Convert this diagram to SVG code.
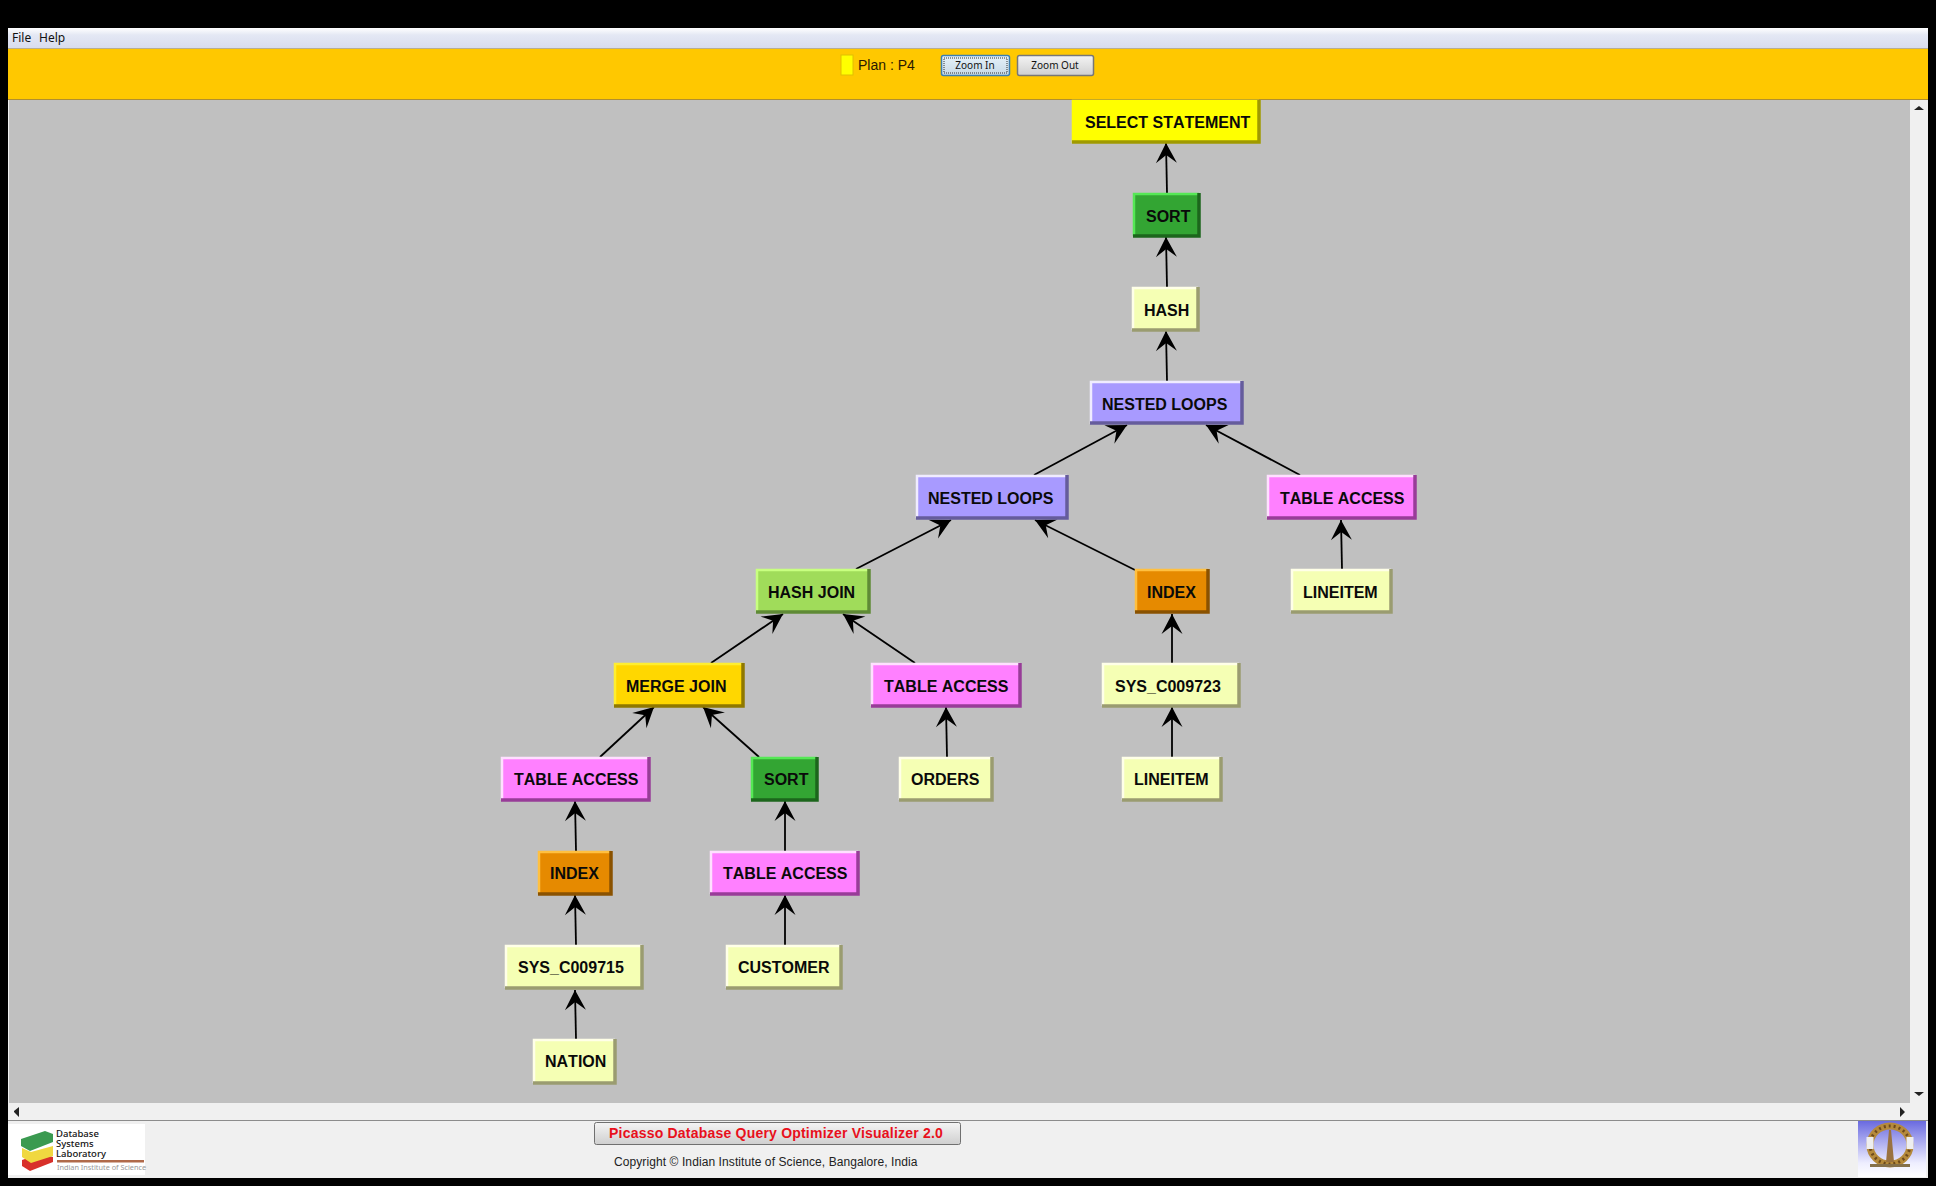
<svg xmlns="http://www.w3.org/2000/svg" width="1936" height="1186" viewBox="0 0 1936 1186">
<style>
.lb{font:bold 16px "Liberation Sans",Arial,sans-serif;font-kerning:none;fill:#0a0a0a}
.ui{font:12px "Noto Sans",sans-serif;fill:#111}
.btn{font:10px "Noto Sans",sans-serif;fill:#111;text-anchor:middle}
.hi{fill:none;stroke-width:2.5}
.lo{fill:none;stroke-width:3.5}
.e{stroke:#000;stroke-width:1.800;fill:none;marker-end:url(#ah)}
.yel{fill:#ffff00}.yel~.hi{stroke:#ffff00}.yel~.lo{stroke:#a09a00}
.grn{fill:#33a533}.grn~.hi{stroke:#55e855}.grn~.lo{stroke:#1c661c}
.pal{fill:#f5ffb4}.pal~.hi{stroke:#ffffe8}.pal~.lo{stroke:#9a9c70}
.pur{fill:#a89aff}.pur~.hi{stroke:#f0ecff}.pur~.lo{stroke:#655c9c}
.pnk{fill:#ff80ff}.pnk~.hi{stroke:#ffe0ff}.pnk~.lo{stroke:#983c98}
.org{fill:#e68a00}.org~.hi{stroke:#ffc040}.org~.lo{stroke:#8a5200}
.gld{fill:#ffd700}.gld~.hi{stroke:#ffee30}.gld~.lo{stroke:#8f7800}
.lim{fill:#a0dc5a}.lim~.hi{stroke:#c8ff80}.lim~.lo{stroke:#5f8a36}
.tk{fill:#222}
</style>
<defs>
<marker id="ah" markerUnits="userSpaceOnUse" markerWidth="24" markerHeight="24" refX="22" refY="12" orient="auto" viewBox="0 0 24 24"><path d="M22,12 L2,1.500 L10,12 L2,22.500 Z" fill="#000"/></marker>
<linearGradient id="menu" x1="0" y1="0" x2="0" y2="1"><stop offset="0" stop-color="#ffffff"/><stop offset=".35" stop-color="#e4e8f4"/><stop offset="1" stop-color="#d8dcee"/></linearGradient>
<linearGradient id="bt" x1="0" y1="0" x2="0" y2="1"><stop offset="0" stop-color="#f4f4f4"/><stop offset="1" stop-color="#cfcfcf"/></linearGradient>
<linearGradient id="bf" x1="0" y1="0" x2="0" y2="1"><stop offset="0" stop-color="#e6f2fa"/><stop offset="1" stop-color="#c6d8e6"/></linearGradient>
<linearGradient id="sky" x1="0" y1="0" x2="0" y2="1"><stop offset="0" stop-color="#6a6ae0"/><stop offset=".75" stop-color="#eeeeff"/><stop offset="1" stop-color="#ffffff"/></linearGradient>
</defs>

<rect width="1936" height="1186" fill="#000"/>
<g id="window">
<rect x="8" y="28" width="1920" height="1150" fill="#f0f0f0"/>
<rect x="8" y="28" width="1920" height="20" fill="url(#menu)"/>
<text class="ui" x="12" y="42">File</text>
<text class="ui" x="39" y="42">Help</text>
<rect x="8" y="48" width="1920" height="1" fill="#b8ae90"/>
<rect x="8" y="49" width="1920" height="50" fill="#ffc800"/>
<rect x="8" y="99" width="1920" height="1" fill="#b08e30"/>
<rect x="9" y="100" width="1901" height="1003" fill="#c0c0c0"/>
<rect x="841" y="55" width="12" height="20" fill="#ffff00" stroke="#e0c000"/>
<text x="858" y="70" font-family="'Liberation Sans',Arial,sans-serif" font-size="14" fill="#2a1a00">Plan : P4</text>
<rect x="941.500" y="55.500" width="68" height="20" rx="2" fill="url(#bf)" stroke="#3c7fb1" stroke-width="1.500"/>
<rect x="944" y="58" width="63" height="15" fill="none" stroke="#333" stroke-dasharray="1 1"/>
<text class="btn" x="975" y="69">Zoom In</text>
<rect x="1017.500" y="55.500" width="76" height="20" rx="2" fill="url(#bt)" stroke="#777" stroke-width="1.500"/>
<text class="btn" x="1055" y="69">Zoom Out</text>
<path class="tk" d="M1914,110h10l-5,-4z M1919,1096l5,-4h-10z M14,1112v-1l5,-4v10z M1900,1107l5,5l-5,5z"/>
<rect x="8" y="1120" width="1920" height="1" fill="#8c8c8c"/>
</g>

<g id="connectors">
<path class="e" d="M1167,193L1166,143"/>
<path class="e" d="M1167,287L1166,237"/>
<path class="e" d="M1167,381L1166,331"/>
<path class="e" d="M1034,475L1127,425"/>
<path class="e" d="M1300,475L1206,425"/>
<path class="e" d="M856,569L951,520"/>
<path class="e" d="M1135,570L1035,520"/>
<path class="e" d="M1342,569L1341,520"/>
<path class="e" d="M711,663L783,614"/>
<path class="e" d="M915,663L843,614"/>
<path class="e" d="M1172,663L1172,614"/>
<path class="e" d="M1172,757L1172,707"/>
<path class="e" d="M947,757L946,707"/>
<path class="e" d="M600,757L654,707"/>
<path class="e" d="M759,757L703,707"/>
<path class="e" d="M576,851L575,801"/>
<path class="e" d="M785,851L785,801"/>
<path class="e" d="M576,945L575,895"/>
<path class="e" d="M785,945L785,895"/>
<path class="e" d="M576,1039L575,990"/>
</g>

<g id="n1"><rect class="yel" x="1072" y="100" width="188" height="43"/><path class="hi" d="M1073,143V101H1259"/><path class="lo" d="M1072,142H1259V100"/><text class="lb" x="1085" y="128">SELECT STATEMENT</text></g>
<g id="n2"><rect class="grn" x="1133" y="193" width="67" height="44"/><path class="hi" d="M1134,236V194H1199"/><path class="lo" d="M1133,236H1199V193"/><text class="lb" x="1146" y="222">SORT</text></g>
<g id="n3"><rect class="pal" x="1132" y="287" width="67" height="44"/><path class="hi" d="M1133,330V288H1198"/><path class="lo" d="M1132,330H1198V287"/><text class="lb" x="1144" y="316">HASH</text></g>
<g id="n4"><rect class="pur" x="1090" y="381" width="153" height="43"/><path class="hi" d="M1091,424V382H1242"/><path class="lo" d="M1090,423H1242V381"/><text class="lb" x="1102" y="410">NESTED LOOPS</text></g>
<g id="n5"><rect class="pur" x="916" y="475" width="152" height="44"/><path class="hi" d="M917,518V476H1067"/><path class="lo" d="M916,518H1067V475"/><text class="lb" x="928" y="504">NESTED LOOPS</text></g>
<g id="n6"><rect class="pnk" x="1267" y="475" width="149" height="44"/><path class="hi" d="M1268,518V476H1415"/><path class="lo" d="M1267,518H1415V475"/><text class="lb" x="1280" y="504">TABLE ACCESS</text></g>
<g id="n7"><rect class="lim" x="756" y="569" width="114" height="44"/><path class="hi" d="M757,612V570H869"/><path class="lo" d="M756,612H869V569"/><text class="lb" x="768" y="598">HASH JOIN</text></g>
<g id="n8"><rect class="org" x="1135" y="569" width="74" height="44"/><path class="hi" d="M1136,612V570H1208"/><path class="lo" d="M1135,612H1208V569"/><text class="lb" x="1147" y="598">INDEX</text></g>
<g id="n9"><rect class="pal" x="1291" y="569" width="101" height="44"/><path class="hi" d="M1292,612V570H1391"/><path class="lo" d="M1291,612H1391V569"/><text class="lb" x="1303" y="598">LINEITEM</text></g>
<g id="n10"><rect class="gld" x="614" y="663" width="130" height="44"/><path class="hi" d="M615,706V664H743"/><path class="lo" d="M614,706H743V663"/><text class="lb" x="626" y="692">MERGE JOIN</text></g>
<g id="n11"><rect class="pnk" x="871" y="663" width="150" height="44"/><path class="hi" d="M872,706V664H1020"/><path class="lo" d="M871,706H1020V663"/><text class="lb" x="884" y="692">TABLE ACCESS</text></g>
<g id="n12"><rect class="pal" x="1102" y="663" width="138" height="44"/><path class="hi" d="M1103,706V664H1239"/><path class="lo" d="M1102,706H1239V663"/><text class="lb" x="1115" y="692">SYS_C009723</text></g>
<g id="n13"><rect class="pnk" x="501" y="757" width="149" height="44"/><path class="hi" d="M502,800V758H649"/><path class="lo" d="M501,800H649V757"/><text class="lb" x="514" y="785">TABLE ACCESS</text></g>
<g id="n14"><rect class="grn" x="751" y="757" width="67" height="44"/><path class="hi" d="M752,800V758H817"/><path class="lo" d="M751,800H817V757"/><text class="lb" x="764" y="785">SORT</text></g>
<g id="n15"><rect class="pal" x="899" y="757" width="94" height="44"/><path class="hi" d="M900,800V758H992"/><path class="lo" d="M899,800H992V757"/><text class="lb" x="911" y="785">ORDERS</text></g>
<g id="n16"><rect class="pal" x="1122" y="757" width="100" height="44"/><path class="hi" d="M1123,800V758H1221"/><path class="lo" d="M1122,800H1221V757"/><text class="lb" x="1134" y="785">LINEITEM</text></g>
<g id="n17"><rect class="org" x="538" y="851" width="74" height="44"/><path class="hi" d="M539,894V852H611"/><path class="lo" d="M538,894H611V851"/><text class="lb" x="550" y="879">INDEX</text></g>
<g id="n18"><rect class="pnk" x="710" y="851" width="149" height="44"/><path class="hi" d="M711,894V852H858"/><path class="lo" d="M710,894H858V851"/><text class="lb" x="723" y="879">TABLE ACCESS</text></g>
<g id="n19"><rect class="pal" x="505" y="945" width="138" height="44"/><path class="hi" d="M506,988V946H642"/><path class="lo" d="M505,988H642V945"/><text class="lb" x="518" y="973">SYS_C009715</text></g>
<g id="n20"><rect class="pal" x="726" y="945" width="116" height="44"/><path class="hi" d="M727,988V946H841"/><path class="lo" d="M726,988H841V945"/><text class="lb" x="738" y="973">CUSTOMER</text></g>
<g id="n21"><rect class="pal" x="533" y="1039" width="83" height="45"/><path class="hi" d="M534,1083V1040H615"/><path class="lo" d="M533,1083H615V1039"/><text class="lb" x="545" y="1067">NATION</text></g>

<g id="footer">
<rect x="8" y="1124" width="137" height="51" fill="#fff"/>
<path d="M22,1160l18,-6l13,3v5l-23,9l-8,-5z" fill="#d8302a"/>
<path d="M22,1148l9,4l22,-6v10l-22,7l-9,-6z" fill="#f0d840"/>
<path d="M21,1139l24,-8l8,3v8l-23,9l-9,-5z" fill="#3a9a50"/>
<g font-family="'Noto Sans',sans-serif" fill="#111" font-size="9.500" font-weight="500">
<text x="56" y="1137">Database</text><text x="56" y="1147">Systems</text><text x="56" y="1157">Laboratory</text>
<text x="57" y="1170" font-size="7.300" font-weight="400" fill="#999">Indian Institute of Science</text></g>
<rect x="57" y="1160" width="87" height="2.500" fill="#b06a4a"/>
<rect x="594.500" y="1122.500" width="366" height="22" rx="2" fill="url(#bt)" stroke="#707070"/>
<text x="609" y="1138" font-family="'Liberation Sans',Arial,sans-serif" font-weight="bold" font-size="14" letter-spacing=".21" fill="#e8101c">Picasso Database Query Optimizer Visualizer 2.0</text>
<text x="614" y="1166" font-family="'Liberation Sans',Arial,sans-serif" font-size="12" letter-spacing=".09" fill="#222">Copyright © Indian Institute of Science, Bangalore, India</text>
<rect x="1858" y="1121" width="68" height="56" fill="url(#sky)"/>
<ellipse cx="1890" cy="1145" rx="20" ry="19" fill="none" stroke="#b58a3c" stroke-width="7"/>
<ellipse cx="1890" cy="1145" rx="20" ry="19" fill="none" stroke="#6e4a1c" stroke-width="3" stroke-dasharray="2 3"/>
<path d="M1870,1137v12M1910,1137v12" stroke="#eeeeee" stroke-width="7" fill="none"/>
<path d="M1889,1130h2l3,32h-8z" fill="#9a7240"/>
<rect x="1870" y="1164" width="40" height="3" fill="#85704a"/>
</g>
</svg>
